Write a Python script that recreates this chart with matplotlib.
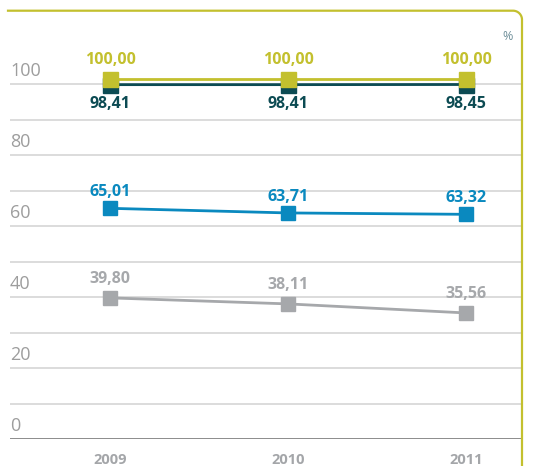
import numpy as np
import matplotlib.pyplot as plt
import matplotlib.transforms as mtransforms
from matplotlib.lines import Line2D

# data
years = ['2009', '2010', '2011']
total = [100.00, 100.00, 100.00]
dark_series = [98.41, 98.41, 98.45]
blue_series = [65.01, 63.71, 63.32]
gray_series = [39.80, 38.11, 35.56]
y_ticks = [0, 20, 40, 60, 80, 100]

yellow = '#c3c02e'
dark = '#0c4b53'
blue = '#0a89bf'
gray = '#a6a8ab'

plt.rcParams['font.family'] = ['Open Sans', 'DejaVu Sans']

W, H = 539, 466
fig = plt.figure(figsize=(W / 100, H / 100), dpi=100)

# axes placed in pixels: left 10, right 522, bottom y=439, top y=11
left, right, top, bottom = 10, 522, 11, 439.3
ax = fig.add_axes([left / W, (H - bottom) / H, (right - left) / W, (bottom - top) / H])
x = np.arange(len(years))
ax.set_xlim(-(110 - left) / 178, 2 + (right - 466) / 178)
ax.set_ylim(0, (bottom - top) / 3.553)
ax.axis('off')

# grid every 10, labels every 20 sitting above the line
for g in range(10, 101, 10):
    ax.axhline(g, color='#d6d6d6', lw=1.2, zorder=0)
ax.axhline(0, color='#8c8c8c', lw=1.4, zorder=0)
for t in y_ticks:
    ax.annotate(str(t), (0, t), xycoords=('axes fraction', 'data'),
                xytext=(0, 3), textcoords='offset points',
                ha='left', va='bottom', fontsize=13, color='#9d9d9d')

# the two top series are nudged up a few pixels, as in the original
shift = mtransforms.ScaledTranslation(0, 5 / 100, fig.dpi_scale_trans)
up = ax.transData + shift

ax.plot(x, dark_series, color=dark, lw=2, marker='s', ms=10.8, transform=up, zorder=3)
ax.plot(x, total, color=yellow, lw=2, marker='s', ms=10.8, transform=up, zorder=4)
ax.plot(x, blue_series, color=blue, lw=2, marker='s', ms=10.5, zorder=3)
ax.plot(x, gray_series, color=gray, lw=2, marker='s', ms=10.5, zorder=3)

def fmt(v):
    return f'{v:.2f}'.replace('.', ',')

lab = dict(fontsize=11.5, fontweight='bold', ha='center')
for i in x:
    ax.annotate(fmt(total[i]), (i, total[i]), xycoords=up, xytext=(0, 8),
                textcoords='offset points', va='bottom', color=yellow, **lab)
    ax.annotate(fmt(dark_series[i]), (i, dark_series[i]), xycoords=up, xytext=(0, -8),
                textcoords='offset points', va='top', color=dark, **lab)
    ax.annotate(fmt(blue_series[i]), (i, blue_series[i]), xytext=(0, 6),
                textcoords='offset points', va='bottom', color=blue, **lab)
    ax.annotate(fmt(gray_series[i]), (i, gray_series[i]), xytext=(0, 8),
                textcoords='offset points', va='bottom', color=gray, **lab)
    ax.annotate(years[i], (i, 0), xytext=(0, -10), textcoords='offset points',
                ha='center', va='top', fontsize=10.5, fontweight='bold', color='#a4a6a9')

fig.text(508 / W, 1 - 37 / H, '%', ha='center', va='center', fontsize=9, color='#6f8f9a')

# frame: top line with a rounded corner into the right edge
r = 9
theta = np.linspace(np.pi / 2, 0, 20)
fx = np.concatenate([[8], 522 - r + r * np.cos(theta), [522]])
fy = np.concatenate([[10.7], 10.7 + r - r * np.sin(theta), [H + 5]])
fig.add_artist(Line2D(fx / W, 1 - fy / H, color=yellow, lw=1.6, transform=fig.transFigure))

fig.savefig('out.png', dpi=100)
